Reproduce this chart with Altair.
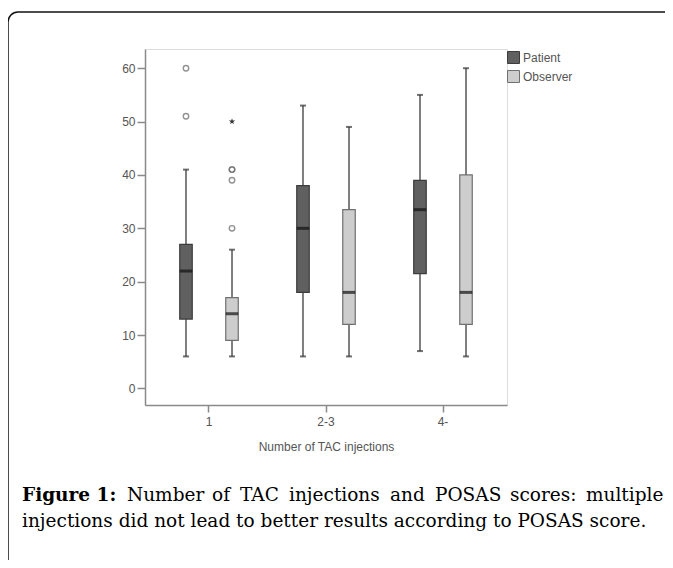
import altair as alt
import pandas as pd

# ---------------- data ----------------
groups = ["1", "2-3", "4-"]
series = ["Patient", "Observer"]

patient_low = [6, 6, 7]
patient_q1 = [13, 18, 21.5]
patient_median = [22, 30, 33.5]
patient_q3 = [27, 38, 39]
patient_high = [41, 53, 55]

observer_low = [6, 6, 6]
observer_q1 = [9, 12, 12]
observer_median = [14, 18, 18]
observer_q3 = [17, 33.5, 40]
observer_high = [26, 49, 60]

outlier_group = ["1", "1", "1", "1", "1", "1"]
outlier_series = ["Patient", "Patient", "Observer", "Observer", "Observer", "Observer"]
outlier_values = [51, 60, 30, 39, 41, 41]

extreme_group = ["1"]
extreme_series = ["Observer"]
extreme_values = [50]

y_ticks = [0, 10, 20, 30, 40, 50, 60]

x_title = "Number of TAC injections"
caption_bold = "Figure 1:"
caption_line1_words = ["Number", "of", "TAC", "injections", "and", "POSAS", "scores:", "multiple"]
caption_line2 = "injections did not lead to better results according to POSAS score."

# ---------------- tables ----------------
stats = pd.DataFrame({
    "group": groups * 2,
    "series": ["Patient"] * 3 + ["Observer"] * 3,
    "low": patient_low + observer_low,
    "q1": patient_q1 + observer_q1,
    "median": patient_median + observer_median,
    "q3": patient_q3 + observer_q3,
    "high": patient_high + observer_high,
})
outliers = pd.DataFrame({"group": outlier_group, "series": outlier_series, "value": outlier_values})
extremes = pd.DataFrame({"group": extreme_group, "series": extreme_series, "value": extreme_values})
dummy = pd.DataFrame({"k": [0]})

# ---------------- layout / style ----------------
PLOT_LEFT, PLOT_TOP = 145, 49          # page coords of plot origin
W, H = 362, 356
SANS = "Liberation Sans"
SERIF = "DejaVu Serif"
GREY_TXT = "#555555"
AXIS_COL = "#8a8a8a"

x_enc = alt.X(
    "group:N",
    scale=alt.Scale(domain=groups, paddingInner=0.2, paddingOuter=0.147),
    axis=alt.Axis(
        title=x_title, labelAngle=0, tickSize=7, labelPadding=4, titlePadding=14,
        domainColor=AXIS_COL, domainWidth=1.5, tickColor=AXIS_COL, tickWidth=1.5,
        labelColor=GREY_TXT, titleColor=GREY_TXT, titleFontWeight="normal",
        labelFont=SANS, titleFont=SANS, labelFontSize=12, titleFontSize=12,
    ),
)
xo_enc = alt.XOffset(
    "series:N",
    scale=alt.Scale(domain=series, paddingInner=0, paddingOuter=0.017),
)
y_scale = alt.Scale(domain=[-3.1, 63.6], nice=False, zero=False)
y_axis = alt.Axis(
    values=y_ticks, title=None, tickSize=8, labelPadding=2, grid=False,
    domainColor=AXIS_COL, domainWidth=1.5, tickColor=AXIS_COL, tickWidth=1.5,
    labelColor=GREY_TXT, labelFont=SANS, labelFontSize=12,
)

base = alt.Chart(stats).encode(x=x_enc, xOffset=xo_enc)

whiskers = base.mark_rule(color="#555555", strokeWidth=1.5).encode(
    y=alt.Y("low:Q", scale=y_scale, axis=y_axis), y2="high:Q"
)
cap_low = base.mark_tick(color="#333333", size=6, thickness=2).encode(
    y=alt.Y("low:Q", scale=y_scale)
)
cap_high = base.mark_tick(color="#333333", size=6, thickness=2).encode(
    y=alt.Y("high:Q", scale=y_scale)
)
boxes = base.mark_bar(size=12.5, strokeWidth=1.2).encode(
    y=alt.Y("q1:Q", scale=y_scale),
    y2="q3:Q",
    fill=alt.Fill(
        "series:N",
        scale=alt.Scale(domain=series, range=["#606060", "#cdcdcd"]),
        legend=alt.Legend(
            title=None, orient="none", legendX=362, legendY=2, padding=0,
            symbolType="square", symbolSize=144, symbolStrokeColor="#444444",
            symbolStrokeWidth=1, rowPadding=2, labelOffset=3,
            labelFont=SANS, labelFontSize=12, labelColor=GREY_TXT,
        ),
    ),
    stroke=alt.Stroke(
        "series:N",
        scale=alt.Scale(domain=series, range=["#3c3c3c", "#707070"]),
        legend=None,
    ),
)
medians = base.mark_tick(color="#111111", size=12.5, thickness=3).encode(
    y=alt.Y("median:Q", scale=y_scale)
)
out_pts = alt.Chart(outliers).mark_point(
    shape="circle", filled=False, size=30, color="#666666", strokeWidth=1.4
).encode(x=x_enc, xOffset=xo_enc, y=alt.Y("value:Q", scale=y_scale))

STAR = ("M0,-1L0.2245,-0.309L0.9511,-0.309L0.3633,0.118L0.5878,0.809L0,0.382"
        "L-0.5878,0.809L-0.3633,0.118L-0.9511,-0.309L-0.2245,-0.309Z")
ext_pts = alt.Chart(extremes).mark_point(
    shape=STAR, filled=True, size=45, color="#333333", opacity=1
).encode(x=x_enc, xOffset=xo_enc, y=alt.Y("value:Q", scale=y_scale))

# outer frame: rounded top-left corner, open to the right and bottom
FR_X, FR_Y, FR_R = 8, 12, 10
frame_top = alt.Chart(dummy).mark_rule(color="#111111", strokeWidth=1.5).encode(
    x=alt.value(FR_X + FR_R - PLOT_LEFT), x2=alt.value(900 - PLOT_LEFT),
    y=alt.value(FR_Y - PLOT_TOP),
)
frame_left = alt.Chart(dummy).mark_rule(color="#111111", strokeWidth=1.5).encode(
    x=alt.value(FR_X - PLOT_LEFT),
    y=alt.value(FR_Y + FR_R - PLOT_TOP), y2=alt.value(900 - PLOT_TOP),
)
frame_corner = alt.Chart(dummy).mark_arc(color="#111111").encode(
    x=alt.value(FR_X + FR_R - PLOT_LEFT), y=alt.value(FR_Y + FR_R - PLOT_TOP),
    theta=alt.value(4.7124), theta2=alt.value(6.2832),
    radius=alt.value(FR_R + 0.75), radius2=alt.value(FR_R - 0.75),
)

# caption
LINE1_Y, LINE2_Y = 501, 527
FS = 18.5
caption_layers = [
    alt.Chart(dummy).mark_text(
        text=caption_bold, font=SERIF, fontSize=FS, fontWeight="bold",
        align="left", baseline="alphabetic", color="#000000",
    ).encode(x=alt.value(22 - PLOT_LEFT), y=alt.value(LINE1_Y - PLOT_TOP))
]
word_x = [127, 212, 240, 289, 390, 435, 510, 586]
for word, wx in zip(caption_line1_words, word_x):
    caption_layers.append(
        alt.Chart(dummy).mark_text(
            text=word, font=SERIF, fontSize=FS, align="left",
            baseline="alphabetic", color="#000000",
        ).encode(x=alt.value(wx - PLOT_LEFT), y=alt.value(LINE1_Y - PLOT_TOP))
    )
caption_layers.append(
    alt.Chart(dummy).mark_text(
        text=caption_line2, font=SERIF, fontSize=FS, align="left",
        baseline="alphabetic", color="#000000",
    ).encode(x=alt.value(22 - PLOT_LEFT), y=alt.value(LINE2_Y - PLOT_TOP))
)

chart = alt.layer(
    frame_top, frame_left, frame_corner,
    whiskers, cap_low, cap_high, boxes, medians, out_pts, ext_pts, *caption_layers
).properties(
    width=W, height=H,
    padding={"left": PLOT_LEFT - 8, "top": PLOT_TOP - 8, "right": 657 - (PLOT_LEFT - 8) - W,
             "bottom": 552 - (PLOT_TOP - 8) - H},
    autosize=alt.AutoSizeParams(type="none"),
).configure_view(
    stroke="#a0a0a0", strokeWidth=1.5
).configure(background="white")

chart.save("out.html", embed_options={"renderer": "svg", "actions": False})
